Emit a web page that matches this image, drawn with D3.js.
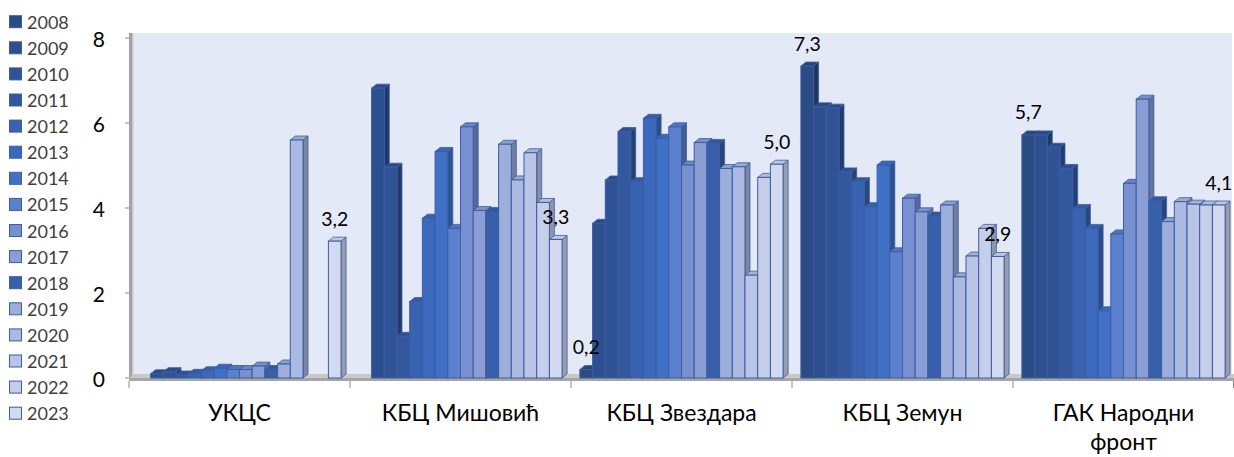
<!DOCTYPE html>
<html>
<head>
<meta charset="utf-8">
<script src="https://cdn.jsdelivr.net/npm/d3@7"></script>
<style>
  html, body { margin: 0; padding: 0; background: #fff; }
  svg { display: block; }
  text { font-family: Lato, "Noto Sans", "Liberation Sans", sans-serif; }
</style>
</head>
<body>
<svg id="chart" width="1234" height="457"></svg>
<script>
// ---- data ----
const categories = ["УКЦС", "КБЦ Мишовић", "КБЦ Звездара", "КБЦ Земун", "ГАК Народни фронт"];
const years = ["2008","2009","2010","2011","2012","2013","2014","2015","2016","2017","2018","2019","2020","2021","2022","2023"];
const ukcs     = [null, 0.10, 0.15, 0.07, 0.11, 0.17, 0.23, 0.20, 0.20, 0.28, 0.20, 0.33, 5.60, null, null, 3.22];
const misovic  = [null, 6.82, 4.96, 0.98, 1.80, 3.76, 5.33, 3.52, 5.91, 3.94, 3.92, 5.50, 4.66, 5.30, 4.13, 3.26];
const zvezdara = [0.20, 3.64, 4.66, 5.80, 4.62, 6.11, 5.64, 5.91, 5.01, 5.54, 5.52, 4.93, 4.97, 2.42, 4.72, 5.03];
const zemun    = [7.34, 6.38, 6.35, 4.85, 4.62, 4.03, 5.01, 2.97, 4.23, 3.91, 3.81, 4.07, 2.38, 2.87, 3.52, 2.86];
const gak      = [5.72, 5.72, 5.43, 4.93, 3.99, 3.52, 1.58, 3.39, 4.58, 6.56, 4.17, 3.68, 4.15, 4.09, 4.07, 4.07];
const yTicks = [0, 2, 4, 6, 8];
const labelledYears = ["2008", "2023"];
const seriesColors = ["#2C4B85","#2E4F8E","#305395","#33589D","#3963B1","#3C69BB","#4071C6","#5B80CD",
                      "#7890CF","#8A9DD5","#385FAA","#9DAEDB","#ACB9E0","#B9C4E6","#C6CFEA","#D3DAEF"];

const valuesByCategory = [ukcs, misovic, zvezdara, zemun, gak];
const rows = [];
categories.forEach((c, ci) => years.forEach((yr, yi) => {
  const v = valuesByCategory[ci][yi];
  if (v != null) rows.push({cat: c, year: yr, value: v});
}));

// ---- layout ----
const svg = d3.select("#chart");
const plot = {left: 129, right: 1234, top: 33, floor: 378};
const dx = 5, dy = 4;

const x0 = d3.scaleBand().domain(categories).range([plot.left, plot.right])
  .paddingInner(0.0805).paddingOuter(0.04025);
const x1 = d3.scaleBand().domain(years).range([0, x0.bandwidth()]).padding(0);
const y = d3.scaleLinear().domain([0, 8]).range([plot.floor, 38]);
const color = d3.scaleOrdinal().domain(years).range(seriesColors);

// plot background
svg.append("rect").attr("x", 133).attr("y", plot.top).attr("width", 1232 - 133).attr("height", 376 - plot.top)
  .attr("fill", "#E3E9F6");

// left wall
svg.append("rect").attr("x", 129).attr("y", plot.top).attr("width", 4).attr("height", plot.floor - plot.top + 2)
  .attr("fill", "#A3A3A3");
svg.append("rect").attr("x", 132).attr("y", plot.top).attr("width", 1.5).attr("height", plot.floor - plot.top)
  .attr("fill", "#C9C9C9");

// floor slab
svg.append("path")
  .attr("d", `M${plot.left},${plot.floor} L${plot.left + dx},${plot.floor - dy} L${plot.right},${plot.floor - dy} L${plot.right},${plot.floor} Z`)
  .attr("fill", "#C8C8C8");
svg.append("rect").attr("x", plot.left).attr("y", plot.floor).attr("width", plot.right - plot.left).attr("height", 3)
  .attr("fill", "#A6A6A6");

// y ticks & labels
yTicks.forEach(t => {
  svg.append("line").attr("x1", 125).attr("x2", 129).attr("y1", y(t)).attr("y2", y(t))
    .attr("stroke", "#8C8C8C").attr("stroke-width", 1);
  svg.append("text").attr("x", 105).attr("y", y(t)).attr("text-anchor", "end")
    .attr("dominant-baseline", "central").attr("font-size", 21).attr("fill", "#000").text(t);
});

// category ticks
const bounds = categories.map(c => x0(c) - x0.step() * x0.paddingOuter()).concat([plot.right - 0.5]);
bounds.forEach(bx => {
  svg.append("line").attr("x1", bx).attr("x2", bx).attr("y1", plot.floor + 3).attr("y2", plot.floor + 10)
    .attr("stroke", "#8C8C8C").attr("stroke-width", 1);
});

// bars
const stroke = "#3A5DA5";
const bars = svg.append("g");
rows.forEach(d => {
  const xl = x0(d.cat) + x1(d.year), w = x1.bandwidth();
  const yt = y(d.value), yb = y(0);
  const fill = d3.color(color(d.year));
  const g = bars.append("g");
  g.append("path")
    .attr("d", `M${xl + w},${yt} L${xl + w + dx},${yt - dy} L${xl + w + dx},${yb - dy} L${xl + w},${yb} Z`)
    .attr("fill", fill.darker(0.9)).attr("stroke", stroke).attr("stroke-width", 0.8).attr("stroke-linejoin", "round");
  g.append("path")
    .attr("d", `M${xl},${yt} L${xl + dx},${yt - dy} L${xl + w + dx},${yt - dy} L${xl + w},${yt} Z`)
    .attr("fill", fill.darker(0.25)).attr("stroke", stroke).attr("stroke-width", 0.8).attr("stroke-linejoin", "round");
  g.append("rect").attr("x", xl).attr("y", yt).attr("width", w).attr("height", yb - yt)
    .attr("fill", fill).attr("stroke", stroke).attr("stroke-width", 1);
});

// data labels
const fmt = v => d3.format(".1f")(v).replace(".", ",");
rows.filter(d => labelledYears.includes(d.year)).forEach(d => {
  svg.append("text")
    .attr("x", x0(d.cat) + x1(d.year) + x1.bandwidth() / 2)
    .attr("y", y(d.value) - 23)
    .attr("text-anchor", "middle").attr("dominant-baseline", "central")
    .attr("font-size", 19.5).attr("fill", "#000").text(fmt(d.value));
});

// category labels
categories.forEach(c => {
  const cx = x0(c) + x0.bandwidth() / 2;
  const lines = c === "ГАК Народни фронт" ? ["ГАК Народни", "фронт"] : [c];
  lines.forEach((ln, i) => {
    svg.append("text").attr("x", cx).attr("y", 421 + i * 29).attr("text-anchor", "middle")
      .attr("font-size", 23).attr("fill", "#000").text(ln);
  });
});

// legend
const legend = svg.append("g");
years.forEach((yr, i) => {
  const cy = 21.7 + i * 26.1;
  legend.append("rect").attr("x", 9.5).attr("y", cy - 6).attr("width", 12).attr("height", 12)
    .attr("fill", color(yr)).attr("stroke", stroke).attr("stroke-width", 1);
  legend.append("text").attr("x", 27).attr("y", cy).attr("dominant-baseline", "central")
    .attr("font-size", 18).attr("fill", "#404040").text(yr);
});
</script>
</body>
</html>
